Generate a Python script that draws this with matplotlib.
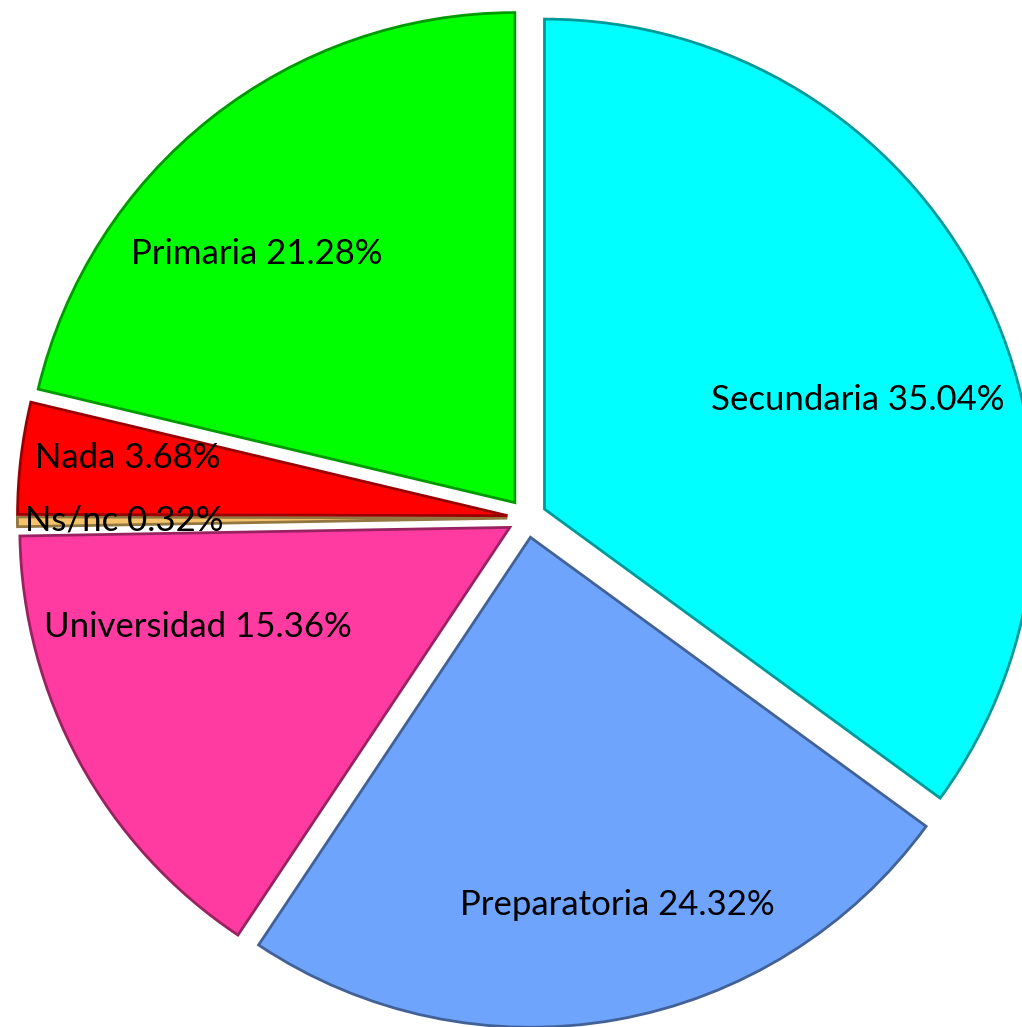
import numpy as np
import matplotlib
matplotlib.use("Agg")
import matplotlib.pyplot as plt
import matplotlib.colors as mcolors

labels = ["Secundaria", "Preparatoria", "Universidad", "Ns/nc", "Nada", "Primaria"]
values = [35.04, 24.32, 15.36, 0.32, 3.68, 21.28]
colors = ["#00FFFF", "#6EA4FC", "#FF3AA1", "#F5C46A", "#FF0000", "#00FF00"]

# label positions in pie units (radius = 1)
label_xy = [(0.676, 0.241), (0.184, -0.790), (-0.671, -0.222),
            (-0.822, -0.006), (-0.814, 0.122), (-0.551, 0.539)]

plt.rcParams["font.family"] = ["Lato", "DejaVu Sans"]

fig = plt.figure(figsize=(10.22, 10.27), dpi=100)
ax = fig.add_axes([0, 0, 1, 1])

def darker(c, f=0.6):
    r, g, b = mcolors.to_rgb(c)
    return (r * f, g * f, b * f)

wedges, _ = ax.pie(values, colors=colors, startangle=90, counterclock=False,
                   explode=[0.04] * len(values), radius=1.0)
for w, c in zip(wedges, colors):
    w.set_edgecolor(darker(c))
    w.set_linewidth(2.0)

for lab, v, (x, y) in zip(labels, values, label_xy):
    ax.text(x, y, f"{lab} {v:.2f}%", ha="center", va="center", fontsize=25)

ax.set_xlim(-1.0755, 1.0102)
ax.set_ylim(-1.0388, 1.0571)
ax.set_aspect("equal")
ax.axis("off")
fig.savefig("out.png", dpi=100)
